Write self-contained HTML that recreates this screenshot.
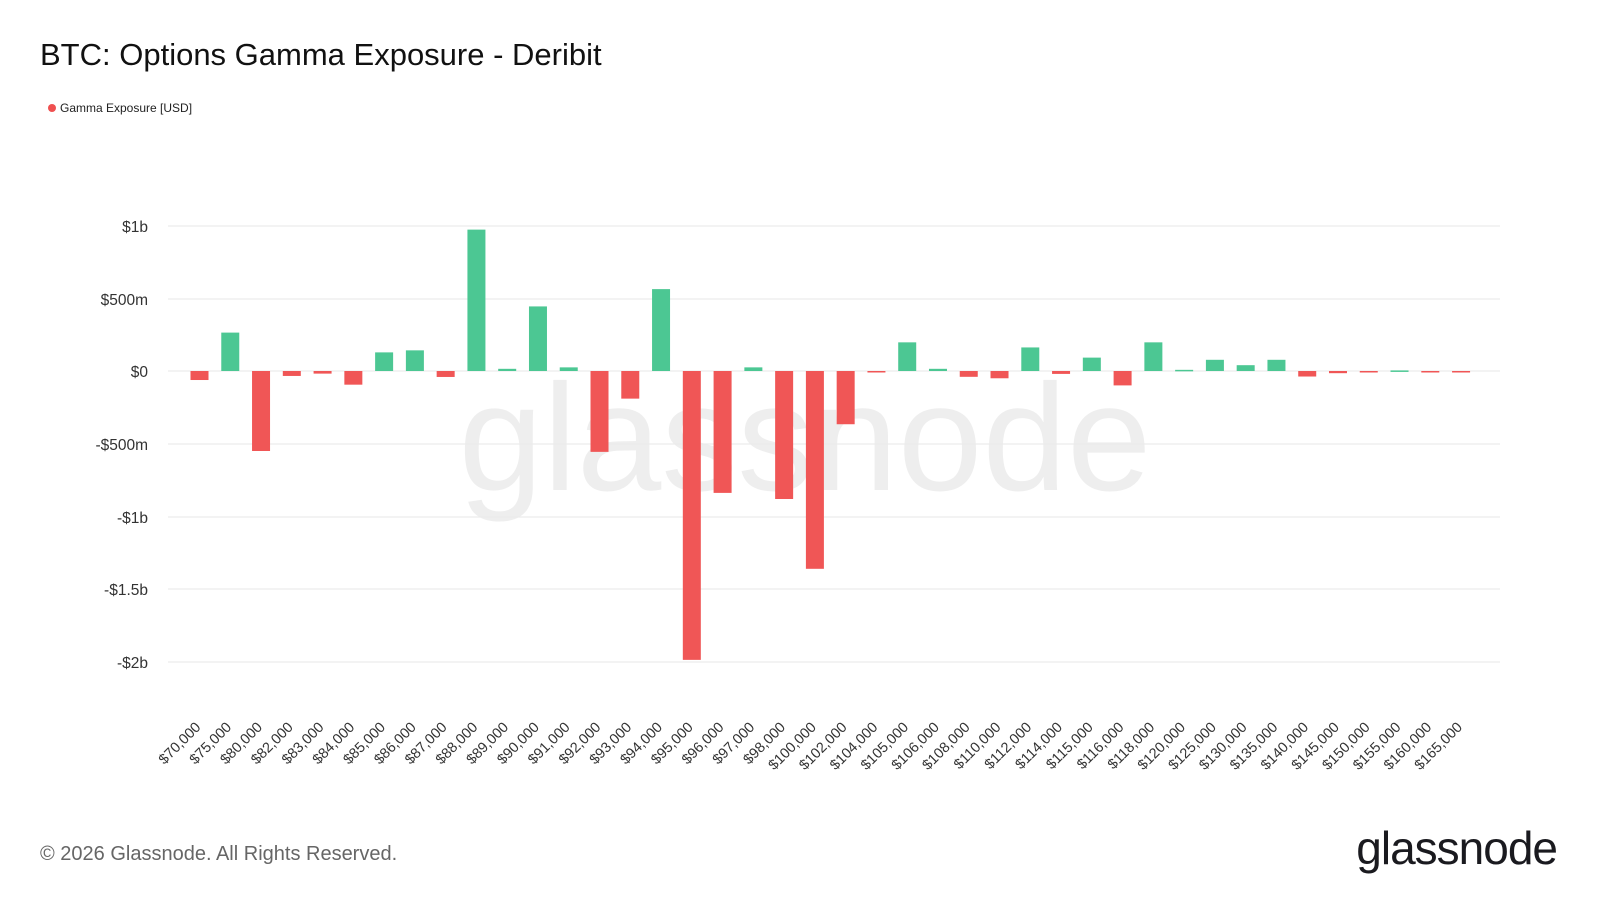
<!DOCTYPE html>
<html><head><meta charset="utf-8"><style>
html,body{margin:0;padding:0;background:#fff;}
svg{display:block;font-family:"Liberation Sans",sans-serif;}
</style></head><body>
<svg width="1600" height="900" viewBox="0 0 1600 900" xmlns="http://www.w3.org/2000/svg">
<rect width="1600" height="900" fill="#fff"/>
<text x="40" y="65" font-size="31" fill="#111">BTC: Options Gamma Exposure - Deribit</text>
<circle cx="52" cy="108" r="4" fill="#ef5050"/>
<text x="60" y="112" font-size="12" fill="#222">Gamma Exposure [USD]</text>
<text x="805" y="490" font-size="152" fill="#000" fill-opacity="0.065" text-anchor="middle">glassnode</text>
<g stroke="#ececec" stroke-width="1.2">
<line x1="168" x2="1500" y1="226" y2="226"/>
<line x1="168" x2="1500" y1="299" y2="299"/>
<line x1="168" x2="1500" y1="371" y2="371"/>
<line x1="168" x2="1500" y1="444" y2="444"/>
<line x1="168" x2="1500" y1="517" y2="517"/>
<line x1="168" x2="1500" y1="589" y2="589"/>
<line x1="168" x2="1500" y1="662" y2="662"/>
</g>
<g font-size="15.5" fill="#333" text-anchor="end">
<text x="148" y="232">$1b</text>
<text x="148" y="305">$500m</text>
<text x="148" y="377">$0</text>
<text x="148" y="450">-$500m</text>
<text x="148" y="523">-$1b</text>
<text x="148" y="595">-$1.5b</text>
<text x="148" y="668">-$2b</text>
</g>
<g id="bars"></g>
<g id="labels" font-size="14.5" fill="#333" text-anchor="end"></g>
<text x="40" y="860" font-size="20" fill="#666">© 2026 Glassnode. All Rights Reserved.</text>
<text x="1557" y="864" font-size="46" fill="#1a1a1f" text-anchor="end" letter-spacing="-1">glassnode</text>
<script>
var labels=["70","75","80","82","83","84","85","86","87","88","89","90","91","92","93","94","95","96","97","98","100","102","104","105","106","108","110","112","114","115","116","118","120","125","130","135","140","145","150","155","160","165"];
var vals=[-62,264,-550,-34,-18,-94,128,142,-41,972,15,444,25,-556,-190,563,-1986,-838,25,-880,-1360,-366,-8,197,15,-40,-50,162,-20,92,-99,197,8,77,40,77,-38,-15,-4,4,-10,-3];
var ns="http://www.w3.org/2000/svg",bg=document.getElementById("bars"),lg=document.getElementById("labels");
for(var i=0;i<42;i++){
 var cx=199.5+i*30.77,v=vals[i],y0=371,y1=371-v*0.14545;
 var r=document.createElementNS(ns,"rect");
 r.setAttribute("x",cx-9);r.setAttribute("width",18);
 r.setAttribute("y",Math.min(y0,y1));r.setAttribute("height",Math.max(1.5,Math.abs(y1-y0)));
 r.setAttribute("fill",v>=0?"#4cc793":"#f05656");bg.appendChild(r);
 var t=document.createElementNS(ns,"text");
 t.setAttribute("transform","translate("+(cx+2)+",728) rotate(-45)");
 t.textContent="$"+labels[i]+",000";lg.appendChild(t);
}
</script>
</svg>
</body></html>
